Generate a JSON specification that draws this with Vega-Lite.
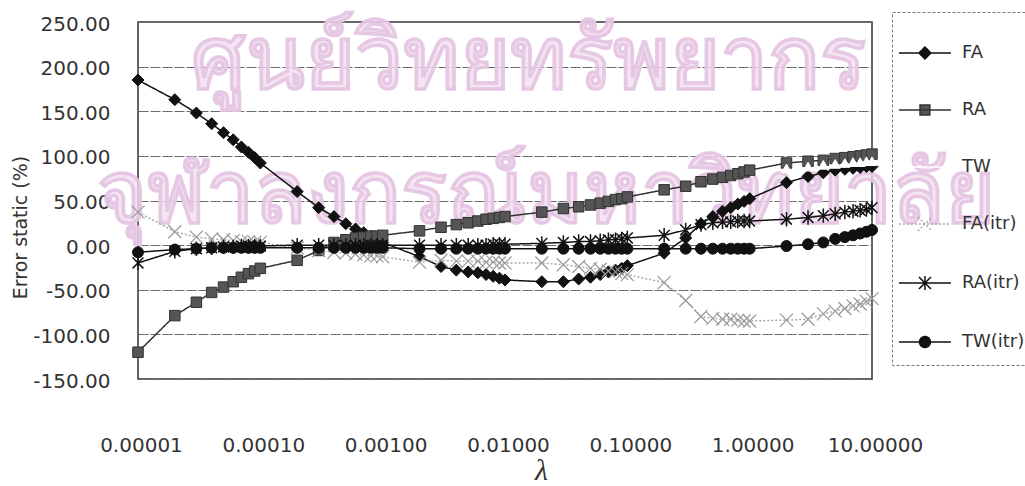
{
  "$schema": "https://vega.github.io/schema/vega-lite/v6.json",
  "width": 734,
  "height": 357,
  "autosize": "none",
  "padding": {"left": 138, "top": 22, "right": 153, "bottom": 107},
  "background": "white",
  "config": {
    "view": {"stroke": "#333333", "strokeWidth": 1.5},
    "font": "DejaVu Sans",
    "locale": {"number": {"decimal": ".", "thousands": ",", "grouping": [3], "currency": ["$", ""], "minus": "-"}}
  },
  "datasets": {
    "wm": [
      {"t": "ศูนย์วิทยทรัพยากร", "x": 0.0155, "y": 205},
      {"t": "จุฬาลงกรณ์มหาวิทยาลัย", "x": 0.0217, "y": 55}
    ],
    "pts": [
      {"s":"FA","x":0.00001,"y":185},{"s":"FA","x":0.00002,"y":163},{"s":"FA","x":0.00003,"y":148},{"s":"FA","x":0.00004,"y":136},{"s":"FA","x":0.00005,"y":126},{"s":"FA","x":0.00006,"y":118},{"s":"FA","x":0.00007,"y":110},{"s":"FA","x":0.00008,"y":104},{"s":"FA","x":0.00009,"y":98},
      {"s":"FA","x":0.0001,"y":92},{"s":"FA","x":0.0002,"y":60},{"s":"FA","x":0.0003,"y":42},{"s":"FA","x":0.0004,"y":32},{"s":"FA","x":0.0005,"y":24},{"s":"FA","x":0.0006,"y":18},{"s":"FA","x":0.0007,"y":14},{"s":"FA","x":0.0008,"y":10},{"s":"FA","x":0.0009,"y":6},
      {"s":"FA","x":0.001,"y":3},{"s":"FA","x":0.002,"y":-13},{"s":"FA","x":0.003,"y":-24},{"s":"FA","x":0.004,"y":-28},{"s":"FA","x":0.005,"y":-30},{"s":"FA","x":0.006,"y":-31},{"s":"FA","x":0.007,"y":-33},{"s":"FA","x":0.008,"y":-35},{"s":"FA","x":0.009,"y":-37},
      {"s":"FA","x":0.01,"y":-39},{"s":"FA","x":0.02,"y":-41},{"s":"FA","x":0.03,"y":-41},{"s":"FA","x":0.04,"y":-38},{"s":"FA","x":0.05,"y":-36},{"s":"FA","x":0.06,"y":-33},{"s":"FA","x":0.07,"y":-30},{"s":"FA","x":0.08,"y":-28},{"s":"FA","x":0.09,"y":-26},
      {"s":"FA","x":0.1,"y":-23},{"s":"FA","x":0.2,"y":-9},{"s":"FA","x":0.3,"y":8},{"s":"FA","x":0.4,"y":24},{"s":"FA","x":0.5,"y":32},{"s":"FA","x":0.6,"y":38},{"s":"FA","x":0.7,"y":42},{"s":"FA","x":0.8,"y":46},{"s":"FA","x":0.9,"y":49},
      {"s":"FA","x":1,"y":52},{"s":"FA","x":2,"y":70},{"s":"FA","x":3,"y":77},{"s":"FA","x":4,"y":81},{"s":"FA","x":5,"y":84},{"s":"FA","x":6,"y":85},{"s":"FA","x":7,"y":86},{"s":"FA","x":8,"y":87},{"s":"FA","x":9,"y":88},{"s":"FA","x":10,"y":88},

      {"s":"RA","x":0.00001,"y":-120},{"s":"RA","x":0.00002,"y":-79},{"s":"RA","x":0.00003,"y":-64},{"s":"RA","x":0.00004,"y":-53},{"s":"RA","x":0.00005,"y":-47},{"s":"RA","x":0.00006,"y":-41},{"s":"RA","x":0.00007,"y":-36},{"s":"RA","x":0.00008,"y":-32},{"s":"RA","x":0.00009,"y":-29},
      {"s":"RA","x":0.0001,"y":-26},{"s":"RA","x":0.0002,"y":-17},{"s":"RA","x":0.0003,"y":-6},{"s":"RA","x":0.0004,"y":3},{"s":"RA","x":0.0005,"y":6},{"s":"RA","x":0.0006,"y":8},{"s":"RA","x":0.0007,"y":9},{"s":"RA","x":0.0008,"y":10},{"s":"RA","x":0.0009,"y":10},
      {"s":"RA","x":0.001,"y":11},{"s":"RA","x":0.002,"y":16},{"s":"RA","x":0.003,"y":20},{"s":"RA","x":0.004,"y":23},{"s":"RA","x":0.005,"y":25},{"s":"RA","x":0.006,"y":27},{"s":"RA","x":0.007,"y":29},{"s":"RA","x":0.008,"y":30},{"s":"RA","x":0.009,"y":31},
      {"s":"RA","x":0.01,"y":32},{"s":"RA","x":0.02,"y":37},{"s":"RA","x":0.03,"y":41},{"s":"RA","x":0.04,"y":43},{"s":"RA","x":0.05,"y":45},{"s":"RA","x":0.06,"y":47},{"s":"RA","x":0.07,"y":49},{"s":"RA","x":0.08,"y":51},{"s":"RA","x":0.09,"y":52},
      {"s":"RA","x":0.1,"y":54},{"s":"RA","x":0.2,"y":62},{"s":"RA","x":0.3,"y":66},{"s":"RA","x":0.4,"y":71},{"s":"RA","x":0.5,"y":74},{"s":"RA","x":0.6,"y":76},{"s":"RA","x":0.7,"y":78},{"s":"RA","x":0.8,"y":80},{"s":"RA","x":0.9,"y":82},
      {"s":"RA","x":1,"y":84},{"s":"RA","x":2,"y":92},{"s":"RA","x":3,"y":94},{"s":"RA","x":4,"y":95},{"s":"RA","x":5,"y":97},{"s":"RA","x":6,"y":98},{"s":"RA","x":7,"y":99},{"s":"RA","x":8,"y":100},{"s":"RA","x":9,"y":101},{"s":"RA","x":10,"y":102},

      {"s":"TW","x":2,"y":86},{"s":"TW","x":3,"y":88},{"s":"TW","x":4,"y":90},{"s":"TW","x":5,"y":91},{"s":"TW","x":6,"y":92},{"s":"TW","x":7,"y":93},{"s":"TW","x":8,"y":93},{"s":"TW","x":9,"y":94},{"s":"TW","x":10,"y":94},

      {"s":"FA(itr)","x":0.00001,"y":37},{"s":"FA(itr)","x":0.00002,"y":15},{"s":"FA(itr)","x":0.00003,"y":9},{"s":"FA(itr)","x":0.00004,"y":7},{"s":"FA(itr)","x":0.00005,"y":6},{"s":"FA(itr)","x":0.00006,"y":5},{"s":"FA(itr)","x":0.00007,"y":4},{"s":"FA(itr)","x":0.00008,"y":4},{"s":"FA(itr)","x":0.00009,"y":3},
      {"s":"FA(itr)","x":0.0001,"y":3},{"s":"FA(itr)","x":0.0002,"y":-3},{"s":"FA(itr)","x":0.0003,"y":-6},{"s":"FA(itr)","x":0.0004,"y":-8},{"s":"FA(itr)","x":0.0005,"y":-9},{"s":"FA(itr)","x":0.0006,"y":-10},{"s":"FA(itr)","x":0.0007,"y":-11},{"s":"FA(itr)","x":0.0008,"y":-12},{"s":"FA(itr)","x":0.0009,"y":-12},
      {"s":"FA(itr)","x":0.001,"y":-13},{"s":"FA(itr)","x":0.002,"y":-19},{"s":"FA(itr)","x":0.003,"y":-17},{"s":"FA(itr)","x":0.004,"y":-18},{"s":"FA(itr)","x":0.005,"y":-18},{"s":"FA(itr)","x":0.006,"y":-18},{"s":"FA(itr)","x":0.007,"y":-19},{"s":"FA(itr)","x":0.008,"y":-19},{"s":"FA(itr)","x":0.009,"y":-20},
      {"s":"FA(itr)","x":0.01,"y":-20},{"s":"FA(itr)","x":0.02,"y":-20},{"s":"FA(itr)","x":0.03,"y":-22},{"s":"FA(itr)","x":0.04,"y":-24},{"s":"FA(itr)","x":0.05,"y":-26},{"s":"FA(itr)","x":0.06,"y":-27},{"s":"FA(itr)","x":0.07,"y":-29},{"s":"FA(itr)","x":0.08,"y":-30},{"s":"FA(itr)","x":0.09,"y":-32},
      {"s":"FA(itr)","x":0.1,"y":-33},{"s":"FA(itr)","x":0.2,"y":-42},{"s":"FA(itr)","x":0.3,"y":-62},{"s":"FA(itr)","x":0.4,"y":-80},{"s":"FA(itr)","x":0.5,"y":-82},{"s":"FA(itr)","x":0.6,"y":-83},{"s":"FA(itr)","x":0.7,"y":-83},{"s":"FA(itr)","x":0.8,"y":-84},{"s":"FA(itr)","x":0.9,"y":-85},
      {"s":"FA(itr)","x":1,"y":-85},{"s":"FA(itr)","x":2,"y":-84},{"s":"FA(itr)","x":3,"y":-83},{"s":"FA(itr)","x":4,"y":-77},{"s":"FA(itr)","x":5,"y":-74},{"s":"FA(itr)","x":6,"y":-71},{"s":"FA(itr)","x":7,"y":-68},{"s":"FA(itr)","x":8,"y":-66},{"s":"FA(itr)","x":9,"y":-63},{"s":"FA(itr)","x":10,"y":-60},

      {"s":"RA(itr)","x":0.00001,"y":-20},{"s":"RA(itr)","x":0.00002,"y":-7},{"s":"RA(itr)","x":0.00003,"y":-4},{"s":"RA(itr)","x":0.00004,"y":-3},{"s":"RA(itr)","x":0.00005,"y":-2},{"s":"RA(itr)","x":0.00006,"y":-2},{"s":"RA(itr)","x":0.00007,"y":-1},{"s":"RA(itr)","x":0.00008,"y":-1},{"s":"RA(itr)","x":0.00009,"y":-1},
      {"s":"RA(itr)","x":0.0001,"y":-1},{"s":"RA(itr)","x":0.0002,"y":0},{"s":"RA(itr)","x":0.0003,"y":0},{"s":"RA(itr)","x":0.0004,"y":0},{"s":"RA(itr)","x":0.0005,"y":0},{"s":"RA(itr)","x":0.0006,"y":0},{"s":"RA(itr)","x":0.0007,"y":0},{"s":"RA(itr)","x":0.0008,"y":0},{"s":"RA(itr)","x":0.0009,"y":0},
      {"s":"RA(itr)","x":0.001,"y":0},{"s":"RA(itr)","x":0.002,"y":0},{"s":"RA(itr)","x":0.003,"y":0},{"s":"RA(itr)","x":0.004,"y":0},{"s":"RA(itr)","x":0.005,"y":0},{"s":"RA(itr)","x":0.006,"y":0},{"s":"RA(itr)","x":0.007,"y":0},{"s":"RA(itr)","x":0.008,"y":1},{"s":"RA(itr)","x":0.009,"y":1},
      {"s":"RA(itr)","x":0.01,"y":1},{"s":"RA(itr)","x":0.02,"y":2},{"s":"RA(itr)","x":0.03,"y":3},{"s":"RA(itr)","x":0.04,"y":4},{"s":"RA(itr)","x":0.05,"y":4},{"s":"RA(itr)","x":0.06,"y":5},{"s":"RA(itr)","x":0.07,"y":6},{"s":"RA(itr)","x":0.08,"y":6},{"s":"RA(itr)","x":0.09,"y":7},
      {"s":"RA(itr)","x":0.1,"y":8},{"s":"RA(itr)","x":0.2,"y":11},{"s":"RA(itr)","x":0.3,"y":17},{"s":"RA(itr)","x":0.4,"y":23},{"s":"RA(itr)","x":0.5,"y":25},{"s":"RA(itr)","x":0.6,"y":26},{"s":"RA(itr)","x":0.7,"y":26},{"s":"RA(itr)","x":0.8,"y":27},{"s":"RA(itr)","x":0.9,"y":27},
      {"s":"RA(itr)","x":1,"y":27},{"s":"RA(itr)","x":2,"y":29},{"s":"RA(itr)","x":3,"y":31},{"s":"RA(itr)","x":4,"y":33},{"s":"RA(itr)","x":5,"y":35},{"s":"RA(itr)","x":6,"y":37},{"s":"RA(itr)","x":7,"y":38},{"s":"RA(itr)","x":8,"y":39},{"s":"RA(itr)","x":9,"y":40},{"s":"RA(itr)","x":10,"y":42},

      {"s":"TW(itr)","x":0.00001,"y":-8},{"s":"TW(itr)","x":0.00002,"y":-5},{"s":"TW(itr)","x":0.00003,"y":-4},{"s":"TW(itr)","x":0.00004,"y":-3},{"s":"TW(itr)","x":0.00005,"y":-3},{"s":"TW(itr)","x":0.00006,"y":-3},{"s":"TW(itr)","x":0.00007,"y":-3},{"s":"TW(itr)","x":0.00008,"y":-3},{"s":"TW(itr)","x":0.00009,"y":-3},
      {"s":"TW(itr)","x":0.0001,"y":-3},{"s":"TW(itr)","x":0.0002,"y":-3},{"s":"TW(itr)","x":0.0003,"y":-3},{"s":"TW(itr)","x":0.0004,"y":-3},{"s":"TW(itr)","x":0.0005,"y":-3},{"s":"TW(itr)","x":0.0006,"y":-3},{"s":"TW(itr)","x":0.0007,"y":-3},{"s":"TW(itr)","x":0.0008,"y":-3},{"s":"TW(itr)","x":0.0009,"y":-3},
      {"s":"TW(itr)","x":0.001,"y":-3},{"s":"TW(itr)","x":0.002,"y":-4},{"s":"TW(itr)","x":0.003,"y":-4},{"s":"TW(itr)","x":0.004,"y":-4},{"s":"TW(itr)","x":0.005,"y":-4},{"s":"TW(itr)","x":0.006,"y":-4},{"s":"TW(itr)","x":0.007,"y":-4},{"s":"TW(itr)","x":0.008,"y":-4},{"s":"TW(itr)","x":0.009,"y":-4},
      {"s":"TW(itr)","x":0.01,"y":-4},{"s":"TW(itr)","x":0.02,"y":-4},{"s":"TW(itr)","x":0.03,"y":-4},{"s":"TW(itr)","x":0.04,"y":-4},{"s":"TW(itr)","x":0.05,"y":-4},{"s":"TW(itr)","x":0.06,"y":-4},{"s":"TW(itr)","x":0.07,"y":-4},{"s":"TW(itr)","x":0.08,"y":-4},{"s":"TW(itr)","x":0.09,"y":-4},
      {"s":"TW(itr)","x":0.1,"y":-4},{"s":"TW(itr)","x":0.2,"y":-4},{"s":"TW(itr)","x":0.3,"y":-4},{"s":"TW(itr)","x":0.4,"y":-4},{"s":"TW(itr)","x":0.5,"y":-4},{"s":"TW(itr)","x":0.6,"y":-4},{"s":"TW(itr)","x":0.7,"y":-4},{"s":"TW(itr)","x":0.8,"y":-4},{"s":"TW(itr)","x":0.9,"y":-4},
      {"s":"TW(itr)","x":1,"y":-4},{"s":"TW(itr)","x":2,"y":-1},{"s":"TW(itr)","x":3,"y":1},{"s":"TW(itr)","x":4,"y":3},{"s":"TW(itr)","x":5,"y":7},{"s":"TW(itr)","x":6,"y":9},{"s":"TW(itr)","x":7,"y":11},{"s":"TW(itr)","x":8,"y":13},{"s":"TW(itr)","x":9,"y":15},{"s":"TW(itr)","x":10,"y":17}
    ]
  },
  "encoding": {
    "x": {"field": "x", "type": "quantitative", "scale": {"type": "log", "domain": [0.00001, 10], "nice": false},
      "axis": {"values": [0.00001, 0.0001, 0.001, 0.01, 0.1, 1, 10], "format": ".5f", "grid": false, "ticks": false, "domain": false,
        "labelFontSize": 20, "labelColor": "#333333", "labelPadding": 66, "labelBaseline": "middle", "labelOffset": 3, "labelFlush": false,
        "title": "λ", "titleFont": "Liberation Serif", "titleFontStyle": "italic", "titleFontWeight": "normal", "titleFontSize": 30, "titleColor": "#333333",
        "titleX": 403, "titleY": 100, "titleBaseline": "alphabetic", "titleAlign": "center"}},
    "y": {"field": "y", "type": "quantitative", "scale": {"domain": [-150, 250], "nice": false},
      "axis": {"values": [-150, -100, -50, 0, 50, 100, 150, 200, 250], "format": ".2f", "grid": true, "gridColor": "#6a6a6a", "gridWidth": 1, "gridDash": [10, 2],
        "ticks": false, "domain": false, "labelFontSize": 20, "labelColor": "#333333", "labelPadding": 28, "labelOffset": 2,
        "title": "Error static (%)", "titleFontSize": 19, "titleFontWeight": "normal", "titleColor": "#333333",
        "titleX": -118, "titleY": 205, "titleAngle": -90, "titleBaseline": "middle", "titleAlign": "center"}}
  },
  "layer": [
    {
      "data": {"name": "wm"},
      "mark": {"type": "text", "fontSize": 86, "fontWeight": "bold", "fill": "#f1def0", "fillOpacity": 0.8, "stroke": "#e2bfe0", "strokeWidth": 1, "strokeOpacity": 0.8, "align": "center", "baseline": "middle"},
      "encoding": {"text": {"field": "t"}}
    },
    {
      "data": {"name": "pts"},
      "mark": {"type": "line", "strokeWidth": 1.5},
      "encoding": {
        "color": {"field": "s", "type": "nominal",
          "scale": {"domain": ["FA", "RA", "TW", "FA(itr)", "RA(itr)", "TW(itr)"], "range": ["#111111", "#333333", "#ffffff", "#aaaaaa", "#111111", "#111111"]},
          "legend": {
            "orient": "none", "legendX": 754, "legendY": -10, "title": null, "padding": 14,
            "strokeColor": "#777777", "symbolSize": 2704, "symbolStrokeWidth": 1.5, "symbolType": "circle",
            "labelFontSize": 18, "labelColor": "#333333", "labelOffset": 2, "rowPadding": 21,
            "encode": {
              "legend": {"update": {"strokeDash": {"value": [3, 2]}}},
              "symbols": {"update": {
                "shape": {"signal": "datum.value === 'FA' ? 'M-1.31,0H0.69M-0.31,-0.23L-0.08,0L-0.31,0.23L-0.54,0Z' : datum.value === 'RA' ? 'M-1.31,0H0.69M-0.5,-0.19H-0.12V0.19H-0.5Z' : datum.value === 'TW' ? 'M-1.31,0H0.69' : datum.value === 'FA(itr)' ? 'M-1.31,0H0.69M-0.58,-0.27L-0.04,0.27M-0.58,0.27L-0.04,-0.27' : datum.value === 'RA(itr)' ? 'M-1.31,0H0.69M-0.54,-0.23L-0.08,0.23M-0.54,0.23L-0.08,-0.23M-0.31,-0.27V0.27' : 'M-1.31,0H0.69M-0.52,0A0.21,0.21 0 1,0 -0.1,0A0.21,0.21 0 1,0 -0.52,0Z'"},
                "fill": {"signal": "datum.value === 'RA' ? '#555555' : (datum.value === 'FA(itr)' || datum.value === 'RA(itr)') ? 'transparent' : datum.value === 'TW' ? '#ffffff' : '#111111'"},
                "stroke": {"signal": "datum.value === 'TW' ? '#ffffff' : datum.value === 'FA(itr)' ? '#999999' : '#111111'"},
                "strokeDash": {"signal": "datum.value === 'FA(itr)' ? [2, 2] : [1, 0]"},
                "size": {"value": 2704},
                "opacity": {"value": 1}
              }}
            }
          }},
        "strokeDash": {"field": "s", "type": "nominal",
          "scale": {"domain": ["FA", "RA", "TW", "FA(itr)", "RA(itr)", "TW(itr)"], "range": [[1, 0], [1, 0], [1, 0], [2, 2], [1, 0], [1, 0]]},
          "legend": null}
      }
    },
    {
      "data": {"name": "pts"},
      "transform": [{"filter": "datum.s === 'FA'"}],
      "mark": {"type": "point", "shape": "diamond", "filled": true, "fill": "#111111", "stroke": "#111111", "strokeWidth": 1, "size": 144, "opacity": 1}
    },
    {
      "data": {"name": "pts"},
      "transform": [{"filter": "datum.s === 'RA'"}],
      "mark": {"type": "point", "shape": "square", "filled": true, "fill": "#555555", "stroke": "#333333", "strokeWidth": 1, "size": 110, "opacity": 1}
    },
    {
      "data": {"name": "pts"},
      "transform": [{"filter": "datum.s === 'TW'"}],
      "mark": {"type": "point", "shape": "triangle-up", "filled": true, "fill": "#ffffff", "stroke": "#ffffff", "strokeWidth": 1, "size": 100, "opacity": 1}
    },
    {
      "data": {"name": "pts"},
      "transform": [{"filter": "datum.s === 'FA(itr)'"}],
      "mark": {"type": "point", "shape": "M-1,-1L1,1M-1,1L1,-1", "filled": false, "fill": "transparent", "stroke": "#999999", "strokeWidth": 1.2, "size": 169, "opacity": 1}
    },
    {
      "data": {"name": "pts"},
      "transform": [{"filter": "datum.s === 'RA(itr)'"}],
      "mark": {"type": "point", "shape": "M-0.9,-0.9L0.9,0.9M-0.9,0.9L0.9,-0.9M0,-1.2V1.2", "filled": false, "fill": "transparent", "stroke": "#111111", "strokeWidth": 1.5, "size": 144, "opacity": 1}
    },
    {
      "data": {"name": "pts"},
      "transform": [{"filter": "datum.s === 'TW(itr)'"}],
      "mark": {"type": "point", "shape": "circle", "filled": true, "fill": "#111111", "stroke": "#111111", "strokeWidth": 1, "size": 121, "opacity": 1}
    }
  ]
}
